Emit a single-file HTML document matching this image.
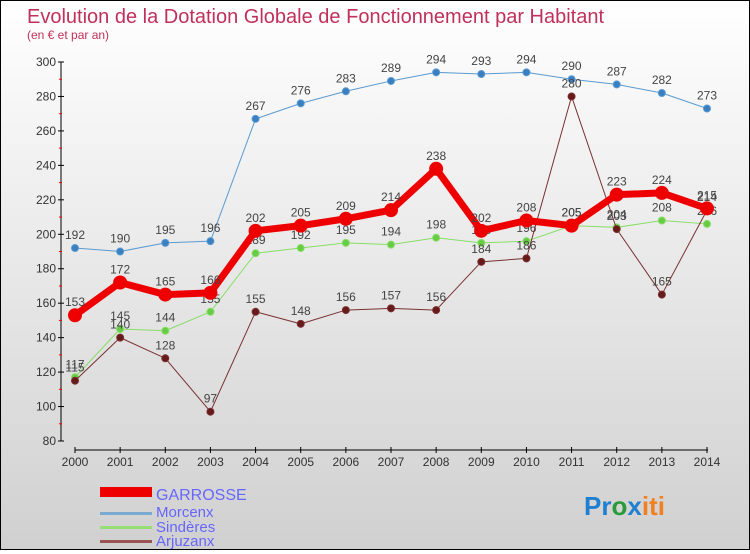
<!DOCTYPE html>
<html><head><meta charset="utf-8"><style>
html,body{margin:0;padding:0}
body{width:750px;height:550px;overflow:hidden;font-family:"Liberation Sans",sans-serif}
#wrap{position:relative;width:748px;height:548px;border:1px solid #000;background:linear-gradient(#fff,#f1f1f1 30%,#d0d0d0)}
svg text{font-family:"Liberation Sans",sans-serif}
</style></head><body>
<div id="wrap">
<svg id="c" width="748" height="548">
<text x="26" y="22" font-size="20" fill="#c0305a">Evolution de la Dotation Globale de Fonctionnement par Habitant</text>
<text x="26" y="38" font-size="12" fill="#c0305a">(en € et par an)</text>
<g id="axes"></g><g id="series"></g>
<g>
<rect x="99" y="486" width="52" height="10" fill="#e00"/>
<text x="155" y="499" font-size="16" fill="#6666ff">GARROSSE</text>
<rect x="99" y="511" width="52" height="3" fill="#7aaad0"/>
<text x="155" y="516" font-size="15" fill="#6666ff">Morcenx</text>
<rect x="99" y="525" width="52" height="3" fill="#99dd77"/>
<text x="155" y="531" font-size="15" fill="#6666ff">Sindères</text>
<rect x="99" y="539" width="52" height="3" fill="#995555"/>
<text x="155" y="545" font-size="15" fill="#6666ff">Arjuzanx</text>
</g>
<g font-size="26" font-weight="bold">
<text x="583" y="514"><tspan fill="#1f7fd0">Pr</tspan><tspan fill="#2a9a3a">o</tspan><tspan fill="#1f7fd0">x</tspan><tspan fill="#f08020">iti</tspan></text>
</g>
</svg></div>
<script>
const years=["2000","2001","2002","2003","2004","2005","2006","2007","2008","2009","2010","2011","2012","2013","2014"];
const yTicks=[80,100,120,140,160,180,200,220,240,260,280,300];
const garrosse=[153,172,165,166,202,205,209,214,238,202,208,205,223,224,215];
const morcenx=[192,190,195,196,267,276,283,289,294,293,294,290,287,282,273];
const sinderes=[117,145,144,155,189,192,195,194,198,195,196,205,204,208,206];
const arjuzanx=[115,140,128,97,155,148,156,157,156,184,186,280,203,165,214];
const NS="http://www.w3.org/2000/svg";
const x0=74,x1=706,yTop=61,yBot=440,vMin=80,vMax=300;
function xs(i){return x0+(x1-x0)*i/(years.length-1);}
function ys(v){return yBot-(v-vMin)*(yBot-yTop)/(vMax-vMin);}
function mk(tag,attrs,parent){const e=document.createElementNS(NS,tag);for(const k in attrs)e.setAttribute(k,attrs[k]);parent.appendChild(e);return e;}
const axes=document.getElementById('axes');
const yl=mk('line',{x1:60,y1:yTop,x2:60,y2:yBot,stroke:'#000'},axes);


yTicks.forEach((t,i)=>{
 mk('line',{x1:57,y1:ys(t),x2:63,y2:ys(t),stroke:'#000'},axes);
 if(i<yTicks.length-1)mk('line',{x1:58,y1:ys(t+10),x2:61,y2:ys(t+10),stroke:'#f00'},axes);
 const tx=mk('text',{x:55,y:ys(t)+4,'font-size':12,fill:'#333','text-anchor':'end'},axes);
 tx.textContent=t;
 
 
});
const xl=mk('line',{x1:x0,y1:449,x2:x1+1,y2:449,stroke:'#000'},axes);


years.forEach((y,i)=>{
 mk('line',{x1:xs(i),y1:446,x2:xs(i),y2:452,stroke:'#000'},axes);
 const tx=mk('text',{x:xs(i),y:465,'font-size':12,fill:'#333','text-anchor':'middle'},axes);
 tx.textContent=y;
 
 
});
const sg=document.getElementById('series');
function draw(name,vals,color,w,r,dot){
 const g=mk('g',{},sg);
 
 
 const pl=mk('polyline',{points:vals.map((v,i)=>xs(i)+','+ys(v)).join(' '),fill:'none',stroke:color,'stroke-width':w,'stroke-linejoin':'round'},g);
 
 
 vals.forEach((v,i)=>{
  const c=mk('circle',{cx:xs(i),cy:ys(v),r:r,fill:dot,stroke:color,'stroke-width':1},g);
  
  
  const t=mk('text',{x:xs(i),y:ys(v)-9,'font-size':12,fill:'#444','text-anchor':'middle'},g);
  t.textContent=v;
  
  
 });
}
draw('morcenx',morcenx,'#5a9ad0',1,3.5,'#3a7fc0');
draw('sinderes',sinderes,'#88dd66',1,3.5,'#66cc44');
draw('arjuzanx',arjuzanx,'#7a3030',1,3.5,'#661a1a');
draw('garrosse',garrosse,'#ee0000',7,6.5,'#ee0000');
</script>
</body></html>
